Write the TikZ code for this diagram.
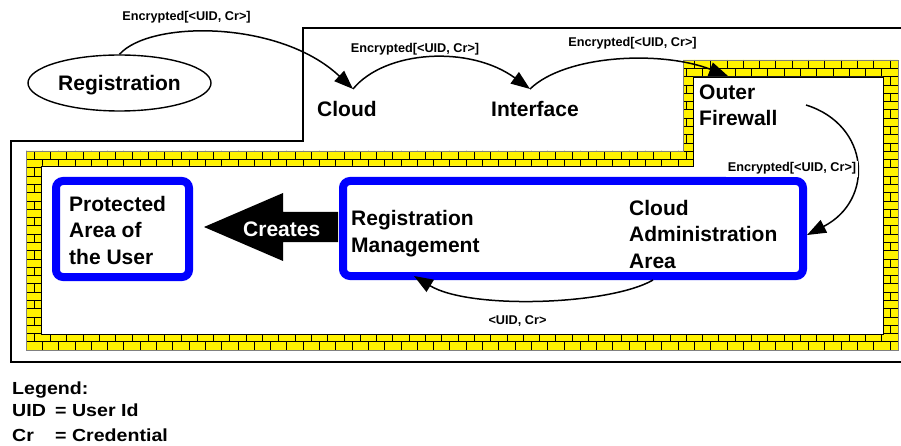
\documentclass[tikz,border=0pt]{standalone}
\usepackage{fontspec}
\setmainfont{Liberation Sans}
\usetikzlibrary{arrows.meta,shapes.geometric,calc}

\begin{document}
\begin{tikzpicture}[x=1pt,y=-1pt,
  lbl/.style={font=\bfseries\fontsize{12.7}{14}\selectfont, inner sep=1pt, anchor=base},
  big/.style={font=\bfseries\fontsize{21}{26.5}\selectfont, inner sep=0pt, align=left, anchor=base west},
  leg/.style={font=\bfseries\fontsize{17.5}{20}\selectfont, inner sep=0pt, anchor=base west},
  area/.style={draw=blue, line width=8pt, rounded corners=7pt, inner sep=0pt},
  flow/.style={line width=1.5pt, -{Triangle[length=19pt,width=14pt]}},
  frame/.style={line width=2pt},
  brick/.style={line width=0.7pt, black},
]
\useasboundingbox (0,0) rectangle (901,446);
\clip (0,0) rectangle (901,446);

% outer system boundary, open to the right
\draw[frame] (910,28) -- (303,28) -- (303,141) -- (11,141) -- (11,362) -- (910,362);

% firewall wall: yellow band with bricks
\fill[yellow] (26,151) -- (683,151) -- (683,60) -- (898,60) -- (898,350) -- (26,350) -- cycle;
\begin{scope}
  \clip (26,151) -- (683,151) -- (683,60) -- (898,60) -- (898,350) -- (26,350) -- cycle;
  \foreach \k in {0,...,34} {
    \pgfmathsetmacro\ya{60+\k*290/35}
    \pgfmathsetmacro\off{mod(\k,2)*8.15}
    \draw[brick] (26,\ya) -- (898,\ya);
    \foreach \i in {-1,...,54} {
      \draw[brick] (26+\off+\i*16.3,\ya) -- ++(0,290/35);
    }
  }
\end{scope}
\filldraw[fill=white, draw=black, line width=0.8pt]
  (41,166) -- (693,166) -- (693,77) -- (883,77) -- (883,334) -- (41,334) -- cycle;
\draw[gray, line width=0.8pt] (26,151) -- (683,151) -- (683,60) -- (898,60) -- (898,350) -- (26,350) -- cycle;

% registration outside
\node[draw, ellipse, line width=1.4pt, minimum width=183, minimum height=56, inner sep=0pt,
      font=\bfseries\fontsize{21}{26}\selectfont, text depth=0pt] (reg) at (119.5,83) {Registration};

% stations along the path (multi-line nodes sit on their last baseline)
\node[big] (cloud) at (317,117) {Cloud};
\node[big] (iface) at (491,117) {Interface};
\node[big] (outer) at (699,126) {Outer\\Firewall};

% protected areas
\node[area, minimum width=133, minimum height=96] (prot) at (122.5,229) {};
\node[big] (prottxt) at (69,264) {Protected\\Area of\\the User};
\node[area, minimum width=460, minimum height=95] (mgmt) at (573,228.5) {};
\node[big] (regmgmt) at (351,252) {Registration\\Management};
\node[big] (cadm) at (629,268) {Cloud\\Administration\\Area};

% creates arrow
\fill[black] (204,227) -- (283,193) -- (283,212) -- (338,212) -- (338,242) -- (283,242) -- (283,261) -- cycle;
\node[font=\bfseries\fontsize{21}{26}\selectfont, text=white, inner sep=0pt, anchor=base west] (creates) at (243,236.5) {Creates};

% ports of the flow
\coordinate (cloudport) at (353,89);
\coordinate (ifport) at (530,89);
\coordinate (fwport) at (728,76);
\coordinate (fwout) at (806,105);

\draw[flow] (reg.north) .. controls (150,20) and (280,20) .. (cloudport);
\draw[flow] (cloudport) .. controls (385,50) and (470,45) .. (ifport);
\draw[flow] (ifport) .. controls (565,55) and (660,50) .. (fwport);
\draw[flow] (fwout) .. controls (870,125) and (875,200) .. ($(mgmt.east)+(0,6.5)$);
\draw[flow] ($(mgmt.south east)+(-154,0)$) .. controls (610,305) and (470,310) .. ($(mgmt.south west)+(75,-4)$);

% flow labels
\node[lbl] (l1) at (186.5,21) {Encrypted[<UID, Cr>]};
\node[lbl] (l2) at (415,53) {Encrypted[<UID, Cr>]};
\node[lbl] (l3) at (632.5,47) {Encrypted[<UID, Cr>]};
\node[lbl, fill=white, inner sep=2pt] (l4) at (792,172) {Encrypted[<UID, Cr>]};
\node[lbl] (l5) at (517.5,324) {<UID, Cr>};

% legend
\node[leg] (legtitle) at (12,394) {\scalebox{1.12}[1]{Legend:}};
\node[leg] (leguid) at (12,416.5) {\scalebox{1.12}[1]{UID}};
\node[leg] (leguidv) at (55,416.5) {\scalebox{1.12}[1]{= User Id}};
\node[leg] (legcr) at (12,441) {\scalebox{1.12}[1]{Cr}};
\node[leg] (legcrv) at (55,441) {\scalebox{1.12}[1]{= Credential}};
\end{tikzpicture}
\end{document}
